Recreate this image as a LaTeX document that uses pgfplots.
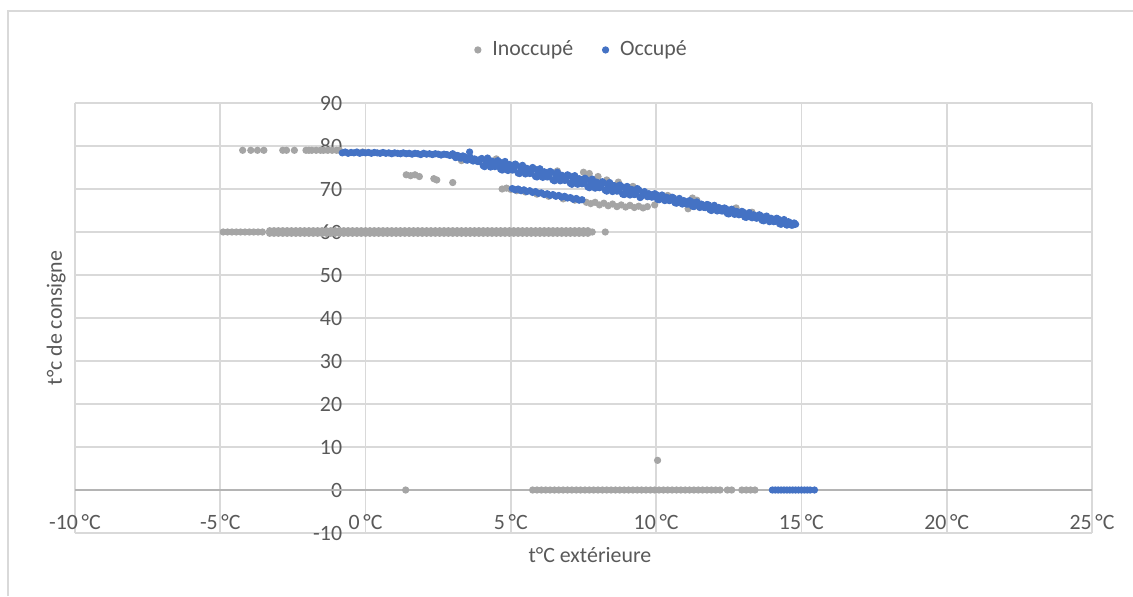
\documentclass[border=0pt]{standalone}
\usepackage{fontspec}
\setmainfont{Carlito}
\usepackage{pgfplots}
\pgfplotsset{compat=1.18}
\definecolor{inocc}{HTML}{A5A5A5}
\definecolor{occ}{HTML}{4472C4}
\definecolor{txt}{HTML}{595959}
\definecolor{grd}{HTML}{D9D9D9}
\definecolor{zeroline}{HTML}{B4B4B4}
\newcommand{\lbl}{\fontsize{8.2pt}{10pt}\selectfont}

\begin{document}
\begin{tikzpicture}
\useasboundingbox (-28.125pt,-23.625pt) rectangle (396.75pt,199.875pt);
% cadre du graphique
\draw[grd, line width=0.6pt] (-25.1pt,-23.625pt) -- (-25.1pt,195.75pt) -- (396.75pt,195.75pt);
\begin{axis}[
  at={(0pt,0pt)}, anchor=south west,
  width=381.375pt, height=161.25pt, scale only axis,
  xmin=-10, xmax=25, ymin=-10, ymax=90,
  axis x line=bottom, axis y line=middle,
  axis line style={-, draw=grd, line width=0.6pt},
  hide obscured x ticks=false, hide obscured y ticks=false,
  xtick={-10,-5,0,5,10,15,20,25},
  ytick={-10,0,10,20,30,40,50,60,70,80,90},
  xticklabels={-10\,°C,-5\,°C,0\,°C,5\,°C,10\,°C,15\,°C,20\,°C,25\,°C},
  yticklabels={-10,0,10,20,30,40,50,60,70,80,90},
  major tick length=0pt,
  grid=major, grid style={draw=grd, line width=0.6pt},
  tick label style={font=\lbl, text=txt},
  xticklabel style={anchor=center, yshift=4pt},
  yticklabel style={anchor=east, inner sep=0pt, xshift=-8.6pt},
  xlabel={t°C extérieure},
  xlabel style={at={(axis description cs:0.5,0)}, anchor=center, yshift=-8.25pt, xshift=2.4pt, font=\lbl, text=txt},
  ylabel={t°c de consigne},
  ylabel style={at={(axis description cs:-0.0186,0.5)}, anchor=center, rotate=90, font=\lbl, text=txt},
  legend style={at={(0.5,1)}, anchor=center, yshift=19.9pt, draw=none, fill=none,
    legend columns=2, font=\lbl, text=txt,
    /tikz/every even column/.append style={column sep=9pt}},
  legend image code/.code={\draw[#1] plot coordinates {(0cm,0cm)}; \path[draw=none] (0cm,0cm) -- (0.12cm,0cm);},
  clip=false,
]
% ligne y = 0
\draw[zeroline, line width=0.9pt] (axis cs:-10,0) -- (axis cs:25,0);

% Inoccupé
\addplot[only marks, mark=*, mark size=1.15pt, color=inocc] coordinates {
 (-4.23,79) (-3.95,79) (-3.72,79) (-3.5,79) (-2.85,79) (-2.72,79) (-2.45,79)
 (-2.05,79) (-1.95,79) (-1.85,79) (-1.7,79) (-1.55,79) (-1.45,79) (-1.3,79)
 (-1.15,79) (-1.0,79) (-0.9,79) (-0.1,78.6)
 (-4.9,60) (-4.75,60) (-4.6,60) (-4.45,60) (-4.3,60) (-4.15,60) (-4.0,60) (-3.85,60) (-3.7,60) (-3.55,60)
 (-3.3,60.3) (-3.15,59.7) (-3.0,60.3) (-2.85,59.7) (-2.7,60.3) (-2.55,59.7) (-2.4,60.3) (-2.25,59.7)
 (-2.1,60.3) (-1.95,59.7) (-1.8,60.3) (-1.65,59.7) (-1.5,60.3) (-1.35,59.7) (-1.2,60.3) (-1.05,59.7)
 (-0.9,60.3) (-0.75,59.7) (-0.6,60.3) (-0.45,59.7) (-0.3,60.3) (-0.15,59.7) (0.0,60.3) (0.15,59.7)
 (0.3,60.3) (0.45,59.7) (0.6,60.3) (0.75,59.7) (0.9,60.3) (1.05,59.7) (1.2,60.3) (1.35,59.7)
 (1.5,60.3) (1.65,59.7) (1.8,60.3) (1.95,59.7) (2.1,60.3) (2.25,59.7) (2.4,60.3) (2.55,59.7)
 (2.7,60.3) (2.85,59.7) (3.0,60.3) (3.15,59.7) (3.3,60.3) (3.45,59.7) (3.6,60.3) (3.75,59.7)
 (3.9,60.3) (4.05,59.7) (4.2,60.3) (4.35,59.7) (4.5,60.3) (4.65,59.7) (4.8,60.3) (4.95,59.7)
 (5.1,60.3) (5.25,59.7) (5.4,60.3) (5.55,59.7) (5.7,60.3) (5.85,59.7) (6.0,60.3) (6.15,59.7)
 (6.3,60.3) (6.45,59.7) (6.6,60.3) (6.75,59.7) (6.9,60.3) (7.05,59.7) (7.2,60.3) (7.35,59.7)
 (7.5,60.3) (7.65,59.7) (7.8,60) (8.25,60)
 (-3.3,59.7) (-3.15,60.3) (-3.0,59.7) (-2.85,60.3) (-2.7,59.7) (-2.55,60.3) (-2.4,59.7) (-2.25,60.3)
 (-2.1,59.7) (-1.95,60.3) (-1.8,59.7) (-1.65,60.3) (-1.5,59.7) (-1.35,60.3) (-1.2,59.7) (-1.05,60.3)
 (-0.9,59.7) (-0.75,60.3) (-0.6,59.7) (-0.45,60.3) (-0.3,59.7) (-0.15,60.3) (0.0,59.7) (0.15,60.3)
 (0.3,59.7) (0.45,60.3) (0.6,59.7) (0.75,60.3) (0.9,59.7) (1.05,60.3) (1.2,59.7) (1.35,60.3)
 (1.5,59.7) (1.65,60.3) (1.8,59.7) (1.95,60.3) (2.1,59.7) (2.25,60.3) (2.4,59.7) (2.55,60.3)
 (2.7,59.7) (2.85,60.3) (3.0,59.7) (3.15,60.3) (3.3,59.7) (3.45,60.3) (3.6,59.7) (3.75,60.3)
 (3.9,59.7) (4.05,60.3) (4.2,59.7) (4.35,60.3) (4.5,59.7) (4.65,60.3) (4.8,59.7) (4.95,60.3)
 (5.1,59.7) (5.25,60.3) (5.4,59.7) (5.55,60.3) (5.7,59.7) (5.85,60.3) (6.0,59.7) (6.15,60.3)
 (6.3,59.7) (6.45,60.3) (6.6,59.7) (6.75,60.3) (6.9,59.7) (7.05,60.3) (7.2,59.7) (7.35,60.3)
 (7.5,59.7) (7.65,60.3)
 (1.4,73.3) (1.55,73.1) (1.7,73.3) (1.85,72.9) (2.35,72.4) (2.45,72.1) (3.0,71.5)
 (4.7,70.0) (4.85,70.2) (5.0,69.9) (5.2,69.6) (5.5,69.3) (5.9,68.8) (6.3,68.3) (6.8,67.7)
 (7.2,67.4) (7.6,66.9) (7.75,66.6) (7.9,66.9) (8.05,66.3) (8.2,66.7) (8.35,66.1) (8.5,66.5)
 (8.65,65.9) (8.8,66.3) (8.95,65.8) (9.1,66.2) (9.25,65.7) (9.4,66.0) (9.55,65.6) (9.7,65.9) (9.95,66.3)
 (3.3,76.6) (4.5,77.0) (6.6,74.2) (7.5,73.9) (7.7,73.6) (8.0,72.9) (8.3,72.1) (8.7,71.6)
 (9.2,70.6) (10.4,68.5) (11.1,65.4) (11.25,67.9) (11.4,67.4) (12.75,65.6) (13.3,64.6)
 (1.38,0) (10.05,6.9)
 (5.75,0) (5.9,0) (6.05,0) (6.2,0) (6.35,0) (6.5,0) (6.65,0) (6.8,0) (6.95,0) (7.1,0) (7.25,0)
 (7.4,0) (7.55,0) (7.7,0) (7.85,0) (8.0,0) (8.15,0) (8.3,0) (8.45,0) (8.6,0) (8.75,0) (8.9,0)
 (9.05,0) (9.2,0) (9.35,0) (9.5,0) (9.65,0) (9.8,0) (9.95,0) (10.1,0) (10.25,0) (10.4,0)
 (10.55,0) (10.7,0) (10.85,0) (11.0,0) (11.15,0) (11.3,0) (11.45,0) (11.6,0) (11.75,0)
 (11.9,0) (12.05,0) (12.2,0) (12.45,0) (12.6,0) (12.95,0) (13.1,0) (13.25,0) (13.4,0)
};
\addlegendentry{Inoccupé}

% Occupé
\addplot[only marks, mark=*, mark size=1.15pt, color=occ] coordinates {
 (-0.8,78.4) (-0.7,78.6) (-0.6,78.3) (-0.5,78.5) (-0.4,78.4) (-0.3,78.6) (-0.2,78.3) (-0.1,78.5)
 (0.0,78.4) (0.1,78.5) (0.2,78.3) (0.3,78.5) (0.4,78.4) (0.5,78.3) (0.6,78.5) (0.7,78.3)
 (0.8,78.4) (0.9,78.2) (1.0,78.4) (1.1,78.3) (1.2,78.2) (1.3,78.4) (1.4,78.2) (1.5,78.3)
 (1.6,78.1) (1.7,78.3) (1.8,78.2) (1.9,78.0) (2.0,78.3) (2.1,78.1) (2.2,78.2) (2.3,78.0)
 (2.4,78.2) (2.5,78.1) (2.6,77.9) (2.7,78.1) (2.8,78.0) (2.9,77.8) (3.58,78.6)
 (3.0,78.2) (3.1,77.3) (3.2,77.7) (3.3,77.2) (3.4,77.5) (3.5,76.7) (3.6,77.4) (3.7,76.5) (3.8,76.8) (3.9,76.4)
 (4.0,77.1) (4.1,75.2) (4.2,77.2) (4.3,75.1) (4.4,76.2) (4.5,75.4) (4.6,76.3) (4.7,74.4) (4.8,76.4) (4.9,74.3)
 (5.0,75.4) (5.1,74.5) (5.2,75.5) (5.3,73.6) (5.4,75.5) (5.5,73.5) (5.6,74.6) (5.7,73.7) (5.8,74.7) (5.9,72.8)
 (6.0,74.7) (6.1,72.7) (6.2,73.8) (6.3,72.9) (6.4,73.9) (6.5,71.9) (6.6,73.9) (6.7,71.9) (6.8,72.9) (6.9,72.1)
 (7.0,73.1) (7.1,71.1) (7.2,73.1) (7.3,71.1) (7.4,72.1) (7.5,71.3) (7.6,72.2) (7.7,70.3) (7.8,72.3) (7.9,70.2)
 (8.0,71.3) (8.1,70.5) (8.2,71.4) (8.3,69.5) (8.4,71.5) (8.5,69.4) (8.6,70.5) (8.7,69.6) (8.8,70.6) (8.9,68.7)
 (9.0,70.6) (9.1,68.6) (9.2,69.7) (9.3,68.8) (9.4,69.8) (9.5,68.3) (9.6,69.4) (9.7,68.2) (9.8,68.7) (9.9,68.2)
 (10.0,68.7) (10.1,67.5) (10.2,68.6) (10.3,67.3) (10.4,67.9) (10.5,67.4) (10.6,67.9) (10.7,66.7) (10.8,67.8) (10.9,66.5)
 (11.0,67.1) (11.1,66.5) (11.2,67.1) (11.3,65.9) (11.4,67.0) (11.5,65.7) (11.6,66.3) (11.7,65.7) (11.8,66.3) (11.9,65.0)
 (12.0,66.2) (12.1,64.9) (12.2,65.5) (12.3,64.9) (12.4,65.4) (12.5,64.2) (12.6,65.3) (12.7,64.1) (12.8,64.7) (12.9,64.1)
 (13.0,64.6) (13.1,63.4) (13.2,64.5) (13.3,63.3) (13.4,63.8) (13.5,63.3) (13.6,63.8) (13.7,62.6) (13.8,63.7) (13.9,62.4)
 (14.0,63.0) (14.1,62.5) (14.2,63.0) (14.3,61.8) (14.4,62.9) (14.5,61.6) (14.6,62.2) (14.7,61.6) (14.8,61.8)
 (3.05,77.7) (3.15,77.8) (3.25,77.2) (3.35,77.7) (3.45,76.8) (3.55,77.1) (3.65,76.8) (3.75,77.0) (3.85,76.4) (3.95,76.9)
 (4.05,75.4) (4.15,76.3) (4.25,75.9) (4.35,76.5) (4.45,75.2) (4.55,76.6) (4.65,74.6) (4.75,75.5) (4.85,75.1) (4.95,75.7)
 (5.05,74.4) (5.15,75.8) (5.25,73.7) (5.35,74.7) (5.45,74.3) (5.55,74.8) (5.65,73.6) (5.75,75.0) (5.85,72.9) (5.95,73.9)
 (6.05,73.5) (6.15,74.0) (6.25,72.8) (6.35,74.1) (6.45,72.1) (6.55,73.1) (6.65,72.6) (6.75,73.2) (6.85,72.0) (6.95,73.3)
 (7.05,71.3) (7.15,72.3) (7.25,71.8) (7.35,72.4) (7.45,71.2) (7.55,72.5) (7.65,70.5) (7.75,71.4) (7.85,71.0) (7.95,71.6)
 (8.05,70.3) (8.15,71.7) (8.25,69.7) (8.35,70.6) (8.45,70.2) (8.55,70.8) (8.65,69.5) (8.75,70.9) (8.85,68.8) (8.95,69.8)
 (9.05,69.4) (9.15,69.9) (9.25,68.7) (9.35,70.1) (9.45,68.0) (9.55,68.9) (9.65,68.6) (9.75,68.9) (9.85,68.1) (9.95,68.9)
 (10.05,67.6) (10.15,68.1) (10.25,67.8) (10.35,68.1) (10.45,67.3) (10.55,68.1) (10.65,66.8) (10.75,67.3) (10.85,67.0) (10.95,67.3)
 (11.05,66.5) (11.15,67.3) (11.25,66.0) (11.35,66.5) (11.45,66.2) (11.55,66.5) (11.65,65.7) (11.75,66.4) (11.85,65.2) (11.95,65.7)
 (12.05,65.4) (12.15,65.7) (12.25,64.9) (12.35,65.6) (12.45,64.3) (12.55,64.9) (12.65,64.6) (12.75,64.8) (12.85,64.0) (12.95,64.8)
 (13.05,63.5) (13.15,64.1) (13.25,63.7) (13.35,64.0) (13.45,63.2) (13.55,64.0) (13.65,62.7) (13.75,63.2) (13.85,62.9) (13.95,63.2)
 (14.05,62.4) (14.15,63.2) (14.25,61.9) (14.35,62.4) (14.45,62.1) (14.55,62.4) (14.65,61.6) (14.75,62.1)
 (5.05,70.1) (5.15,69.8) (5.25,70.0) (5.35,69.6) (5.45,69.8) (5.55,69.4) (5.65,69.6) (5.75,69.2)
 (5.85,69.4) (5.95,69.0) (6.05,69.1) (6.15,68.7) (6.25,68.9) (6.35,68.5) (6.45,68.7) (6.55,68.3)
 (6.65,68.5) (6.75,68.1) (6.85,68.3) (6.95,67.9) (7.05,68.0) (7.15,67.6) (7.25,67.8) (7.35,67.4) (7.45,67.5)
 (14.0,0) (14.1,0) (14.2,0) (14.3,0) (14.4,0) (14.5,0) (14.6,0) (14.7,0) (14.8,0) (14.9,0)
 (15.0,0) (15.1,0) (15.2,0) (15.3,0) (15.45,0)
};
\addlegendentry{Occupé}
\end{axis}
\end{tikzpicture}
\end{document}
